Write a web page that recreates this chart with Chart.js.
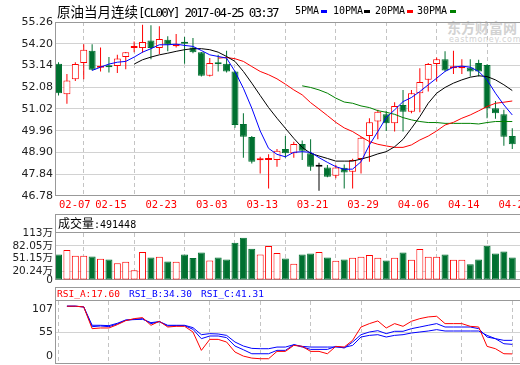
<!DOCTYPE html>
<html>
<head>
<meta charset="utf-8">
<script src="https://cdn.jsdelivr.net/npm/chart.js@4.4.0/dist/chart.umd.min.js"></script>
<style>
  html, body { margin: 0; padding: 0; background: #fff; overflow: hidden; width: 520px; height: 365px; }
  canvas { position: absolute; left: 0; }
  .txt { position: absolute; white-space: nowrap; color: #000; }
  .mono { font-family: "DejaVu Sans Mono", monospace; }
  .cjk { font-family: "Noto Sans CJK SC", sans-serif; }
  .mark { position: absolute; top: 10px; width: 6px; height: 3px; }
</style>
</head>
<body>
<!-- watermark -->
<div class="txt cjk" style="left:447px;top:18px;font-size:14px;font-weight:bold;color:#d2d2d2;line-height:18px">东方财富网</div>
<div class="txt" style="left:449px;top:35px;font:8px 'DejaVu Sans';color:#d2d2d2;letter-spacing:0.7px;line-height:10px">eastmoney.com</div>

<canvas id="priceChart" width="540" height="213" style="top:0"></canvas>
<canvas id="volChart" width="540" height="70" style="top:213px"></canvas>
<canvas id="rsiChart" width="540" height="82" style="top:283px"></canvas>

<!-- title + legend -->
<div class="txt" style="left:57px;top:3px;line-height:17px"><span class="cjk" style="font-size:13.5px">原油当月连续</span><span class="mono" style="font-size:12.5px;letter-spacing:-1.7px">[CL00Y] 2017-04-25 03:37</span></div>
<div class="txt mono" style="left:295px;top:4px;font-size:10px;line-height:14px">5PMA</div>
<div class="mark" style="left:321px;background:#0000ff"></div>
<div class="txt mono" style="left:333px;top:4px;font-size:10px;line-height:14px">10PMA</div>
<div class="mark" style="left:364px;background:#000"></div>
<div class="txt mono" style="left:375px;top:4px;font-size:10px;line-height:14px">20PMA</div>
<div class="mark" style="left:407px;background:#ff0000"></div>
<div class="txt mono" style="left:417px;top:4px;font-size:10px;line-height:14px">30PMA</div>
<div class="mark" style="left:450px;background:#008000"></div>

<!-- panel headers -->
<div class="txt" style="left:58px;top:215px;line-height:16px"><span class="cjk" style="font-size:12px">成交量</span><span class="mono" style="font-size:10px">:491448</span></div>
<div class="txt mono" style="left:57px;top:287px;font-size:9.5px;line-height:14px;color:#ff0000">RSI_A:17.60</div>
<div class="txt mono" style="left:129px;top:287px;font-size:9.5px;line-height:14px;color:#0000ff">RSI_B:34.30</div>
<div class="txt mono" style="left:201px;top:287px;font-size:9.5px;line-height:14px;color:#0000ff">RSI_C:41.31</div>

<script>
// trading days
const dates = ["02-07","02-08","02-09","02-10","02-13","02-14","02-15","02-16","02-17","02-20",
  "02-21","02-22","02-23","02-24","02-27","02-28","03-01","03-02","03-03","03-06",
  "03-07","03-08","03-09","03-10","03-13","03-14","03-15","03-16","03-17","03-20",
  "03-21","03-22","03-23","03-24","03-27","03-28","03-29","03-30","03-31","04-03",
  "04-04","04-05","04-06","04-07","04-10","04-11","04-12","04-13","04-14","04-17",
  "04-18","04-19","04-20","04-21","04-24"];

const open = [53.22,51.74,52.47,53.26,53.86,53.03,53.07,53.11,53.55,53.99,
  53.99,54.36,53.99,54.40,54.08,54.25,54.02,53.78,52.64,53.24,
  53.22,52.85,50.29,49.66,48.52,48.54,48.53,49.07,48.86,49.31,
  48.86,48.21,48.17,47.77,48.16,47.96,48.58,49.70,50.41,50.76,
  50.32,51.22,50.89,51.79,52.44,53.21,53.45,53.00,53.00,53.04,
  53.26,53.17,51.06,50.76,49.70];
const high = [53.30,52.72,53.30,54.18,54.18,54.02,53.55,53.66,53.80,54.31,
  55.13,55.10,55.05,54.56,54.67,54.53,54.48,53.80,53.50,53.66,
  53.86,52.88,50.81,49.70,48.69,48.81,49.07,49.70,49.43,49.48,
  49.54,48.40,48.29,48.29,48.32,48.60,49.65,50.57,50.98,50.93,
  51.35,51.95,51.95,53.01,53.26,53.53,53.83,53.86,53.45,53.45,
  53.42,53.20,51.41,50.98,50.08];
const low = [51.68,51.27,52.39,52.47,52.90,52.85,52.80,52.77,52.96,53.78,
  53.76,53.45,53.70,53.83,54.02,53.22,53.74,52.60,52.60,52.85,
  52.80,50.11,48.65,48.37,47.88,47.15,48.21,48.65,48.65,48.53,
  48.01,47.03,47.69,47.64,47.15,47.15,47.88,48.45,49.54,49.95,
  49.92,49.92,50.81,50.86,51.87,52.36,52.85,52.73,52.72,52.60,
  52.60,50.57,50.54,49.23,49.07];
const close = [51.79,52.41,53.21,53.91,52.93,53.06,53.05,53.48,53.78,54.03,
  54.28,53.99,54.43,54.15,54.12,54.20,53.78,52.64,53.26,53.20,
  52.85,50.24,49.67,48.45,48.55,48.57,48.99,48.86,49.31,48.99,
  48.21,48.21,47.72,48.17,47.93,48.53,49.62,50.37,50.89,50.32,
  51.17,50.89,51.79,52.33,53.21,53.45,52.90,53.02,53.03,52.85,
  52.85,51.06,50.81,49.67,49.30];

// moving averages (null = not drawn yet)
const ma5 = [null,null,null,null,52.90,53.06,53.21,53.30,53.34,53.55,
  53.79,53.96,54.15,54.15,54.18,54.12,54.07,53.87,53.66,53.58,
  53.50,52.85,52.03,51.06,49.95,49.10,48.81,48.69,48.91,48.94,
  48.91,48.65,48.42,48.21,48.08,48.09,48.45,49.27,49.92,50.60,
  50.98,51.38,51.58,51.87,52.20,52.52,52.85,53.06,53.11,53.06,
  52.85,52.44,51.79,51.22,50.73];
const ma10 = [null,null,null,null,null,null,null,null,null,53.21,
  53.42,53.55,53.66,53.74,53.83,53.91,53.96,53.96,53.91,53.79,
  53.58,53.34,52.85,52.28,51.68,51.09,50.57,50.08,49.59,49.15,
  48.86,48.73,48.61,48.48,48.48,48.48,48.58,48.69,48.83,48.94,
  49.18,49.54,50.08,50.65,51.30,51.79,52.07,52.28,52.44,52.57,
  52.64,52.60,52.44,52.20,51.92];
const ma20 = [null,null,null,null,null,null,null,null,null,null,
  null,null,null,null,null,null,null,null,null,53.50,
  53.53,53.47,53.34,53.09,52.85,52.69,52.49,52.23,51.95,51.71,
  51.33,51.02,50.70,50.37,50.10,49.92,49.67,49.43,49.30,49.22,
  49.15,49.15,49.27,49.51,49.70,49.95,50.24,50.37,50.57,50.73,
  50.93,51.14,51.30,51.35,51.41];
const ma30 = [null,null,null,null,null,null,null,null,null,null,
  null,null,null,null,null,null,null,null,null,null,
  null,null,null,null,null,null,null,null,null,52.15,
  52.07,51.95,51.79,51.55,51.36,51.30,51.17,51.09,50.94,50.86,
  50.76,50.60,50.49,50.41,50.36,50.36,50.32,50.32,50.32,50.32,
  50.29,50.36,50.41,50.41,50.41];

// volume in 万
const volume = [61.2,72.2,58.1,58.1,56.5,51.0,49.5,40.0,44.0,23.6,
  67.5,54.2,55.7,44.7,44.0,61.2,52.6,65.9,47.1,54.2,
  49.5,89.5,101.3,75.4,61.2,81.6,65.2,51.8,39.3,61.2,
  63.6,67.5,54.2,46.3,49.5,53.4,55.7,60.4,53.4,47.1,
  53.4,65.9,48.7,74.6,55.7,55.7,61.2,48.7,48.7,37.7,
  49.5,82.4,63.6,68.3,54.2];

const rsiA = [null,100.9,100.9,99.7,61.7,62.9,62.9,68.7,75.7,79.2,
  81.0,67.6,74.6,64.6,65.8,65.8,55.9,23.8,43.0,43.0,
  38.4,20.9,13.8,10.3,9.2,9.2,22.0,22.0,32.5,30.8,
  22.0,22.0,17.9,30.8,29.6,41.3,64.6,70.5,75.2,62.9,
  70.5,65.8,74.6,79.2,82.2,83.3,70.5,70.5,70.5,65.8,
  64.6,30.8,26.7,17.9,17.6];
const rsiB = [null,100.9,100.9,99.7,65.2,66.4,65.2,69.9,76.3,78.1,
  79.2,70.5,74.0,66.4,67.0,67.0,60.6,44.2,48.9,48.9,
  46.0,31.4,24.9,17.9,17.9,17.9,23.8,23.8,33.7,29.6,
  25.5,25.5,25.5,30.8,27.9,38.4,51.2,55.9,58.2,53.0,
  57.1,57.1,61.7,64.6,67.6,70.5,64.6,64.6,64.6,64.6,
  61.7,47.1,44.2,35.4,34.3];
const rsiC = [null,100.9,100.9,99.7,67.6,67.6,67.0,71.1,76.9,77.5,
  78.1,72.2,74.0,67.6,67.6,67.6,63.5,51.2,53.0,52.4,
  50.0,38.4,31.4,27.3,26.7,26.7,29.6,29.6,33.7,30.8,
  29.6,29.6,29.6,29.6,29.0,32.5,47.1,50.0,51.2,47.1,
  50.0,51.2,54.1,55.9,57.6,60.0,57.6,57.6,57.6,57.6,
  57.6,50.0,44.2,41.3,41.31];

// axis ticks
const priceTicks = [46.78, 47.84, 48.90, 49.96, 51.02, 52.08, 53.14, 54.20, 55.26];
const volTicks = [0, 20.24, 51.15, 82.05, 113];
const volTickLabels = ["0", "20.24万", "51.15万", "82.05万", "113万"];
const rsiTicks = [0, 55, 107];
const dateTickStep = 6;

const RED = "#ff0000", GREEN = "#007030", BLUE = "#0000ff", BLACK = "#000000", MAGREEN = "#008000";
const GRID = "#d2d2d2", FRAME = "#999999";
const X_MIN = -0.3, X_MAX = 57.3;

const idx = dates.map((d, i) => i);
const dateTickIdx = idx.filter(i => i % dateTickStep === 0);
const candleColor = idx.map(i => close[i] > open[i] ? RED : (close[i] < open[i] ? GREEN : BLACK));
const bodyFill = idx.map(i => close[i] > open[i] ? "#ffffff" : candleColor[i]);
const volColor = idx.map(i => close[i] >= open[i] ? RED : GREEN);
const volFill = idx.map(i => close[i] >= open[i] ? "#ffffff" : GREEN);

function xAxis(h) {
  return {
    type: "linear", min: X_MIN, max: X_MAX, offset: false,
    afterBuildTicks: s => { s.ticks = dateTickIdx.map(v => ({ value: v })); },
    afterFit: s => { s.height = h; },
    ticks: { display: false },
    grid: { color: "#c4c4c4", drawTicks: false },
    border: { display: false, dash: [4, 3] }
  };
}

function yAxis(min, max, ticks, gridAt) {
  return {
    type: "linear", min: min, max: max,
    afterBuildTicks: s => { s.ticks = ticks.map(v => ({ value: v })); },
    afterFit: s => { s.width = 56; },
    ticks: { display: false },
    grid: { drawTicks: false, color: c => (c.tick && gridAt.includes(c.tick.value)) ? GRID : "rgba(0,0,0,0)" },
    border: { display: false }
  };
}

function options(y, xh, padTop) {
  return {
    responsive: false, animation: false, events: [],
    layout: { padding: { top: padTop, left: 0, right: 0, bottom: 0 } },
    plugins: { legend: { display: false }, tooltip: { enabled: false } },
    scales: { x: xAxis(xh), y: y }
  };
}

// panel frame (outer box + header separator)
function frame(headerTop) {
  return {
    id: "frame",
    beforeDatasetsDraw(chart) {
      const ctx = chart.ctx, a = chart.chartArea;
      const L = Math.round(a.left) - 0.5, R = chart.width + 5;
      const T = Math.round(headerTop == null ? a.top : headerTop) + 0.5;
      const B = Math.round(a.bottom) - 0.5;
      ctx.save();
      ctx.strokeStyle = FRAME;
      ctx.lineWidth = 1;
      ctx.strokeRect(L, T, R - L, B - T);
      if (headerTop != null) {
        const hy = Math.round(a.top) - 0.5;
        ctx.beginPath(); ctx.moveTo(L, hy); ctx.lineTo(R, hy); ctx.stroke();
      }
      ctx.restore();
    }
  };
}

// axis text: y labels at the left, optional date labels under the plot
function axisText(cfg) {
  return {
    id: "axisText",
    afterDraw(chart) {
      const ctx = chart.ctx, a = chart.chartArea, ys = chart.scales.y, xs = chart.scales.x;
      ctx.save();
      ctx.font = cfg.font;
      ctx.fillStyle = "#222";
      ctx.textAlign = "right";
      ctx.textBaseline = "middle";
      cfg.ticks.forEach((v, k) => {
        let y = ys.getPixelForValue(v);
        if (cfg.pad) y = Math.min(Math.max(y, a.top + cfg.pad), a.bottom - cfg.pad);
        ctx.fillText(cfg.labels[k], a.left - 3, y);
      });
      if (cfg.dates) {
        ctx.font = '10.5px "DejaVu Sans Mono", monospace';
        ctx.fillStyle = RED;
        ctx.textAlign = "left";
        dateTickIdx.forEach(i => {
          const t = dates[i];
          const w = ctx.measureText(t).width;
          const x = Math.max(xs.getPixelForValue(i) + 2 - w / 2, a.left + 3);
          ctx.fillText(t, x, 205.5);
        });
      }
      ctx.restore();
    }
  };
}

const maLine = (arr, color) => ({
  type: "line", data: arr.map((v, i) => ({ x: i, y: v })),
  borderColor: color, borderWidth: 1, pointRadius: 0, tension: 0, order: 0
});

new Chart(document.getElementById("priceChart"), {
  type: "bar",
  data: {
    datasets: [
      maLine(ma5, BLUE), maLine(ma10, BLACK), maLine(ma20, RED), maLine(ma30, MAGREEN),
      {
        data: idx.map(i => ({ x: i, y: [open[i], close[i]] })),
        backgroundColor: bodyFill, borderColor: candleColor, borderWidth: 1, borderSkipped: false,
        barThickness: 7, minBarLength: 2, grouped: false, inflateAmount: 0, order: 1
      },
      {
        data: idx.map(i => ({ x: i, y: [low[i], high[i]] })),
        backgroundColor: candleColor, borderWidth: 0,
        barThickness: 1, grouped: false, inflateAmount: 0, order: 2
      }
    ]
  },
  options: options(yAxis(46.78, 55.26, priceTicks, priceTicks.slice(1, -1)), 17, 22),
  plugins: [frame(null), axisText({ ticks: priceTicks, labels: priceTicks.map(v => v.toFixed(2)), font: '11px "DejaVu Sans", sans-serif', dates: true })]
});

new Chart(document.getElementById("volChart"), {
  type: "bar",
  data: {
    datasets: [{
      data: idx.map(i => ({ x: i, y: volume[i] })),
      backgroundColor: volFill, borderColor: volColor, borderWidth: 1, borderSkipped: false,
      barThickness: 7, inflateAmount: 0
    }]
  },
  options: options(yAxis(0, 113, volTicks, [20.24, 82.05]), 3, 20),
  plugins: [frame(1), axisText({ ticks: volTicks, labels: volTickLabels, font: '10.5px "DejaVu Sans", "Noto Sans CJK SC", sans-serif' })]
});

new Chart(document.getElementById("rsiChart"), {
  type: "line",
  data: {
    datasets: [
      { data: rsiA.map((v, i) => ({ x: i, y: v })), borderColor: RED, borderWidth: 1, pointRadius: 0, tension: 0 },
      { data: rsiB.map((v, i) => ({ x: i, y: v })), borderColor: BLUE, borderWidth: 1, pointRadius: 0, tension: 0 },
      { data: rsiC.map((v, i) => ({ x: i, y: v })), borderColor: BLUE, borderWidth: 1, pointRadius: 0, tension: 0 }
    ]
  },
  options: options(yAxis(0, 110, rsiTicks, [55]), 1, 18),
  plugins: [frame(4), axisText({ ticks: rsiTicks, labels: rsiTicks.map(String), font: '11px "DejaVu Sans", sans-serif', pad: 8 })]
});
</script>
</body>
</html>
